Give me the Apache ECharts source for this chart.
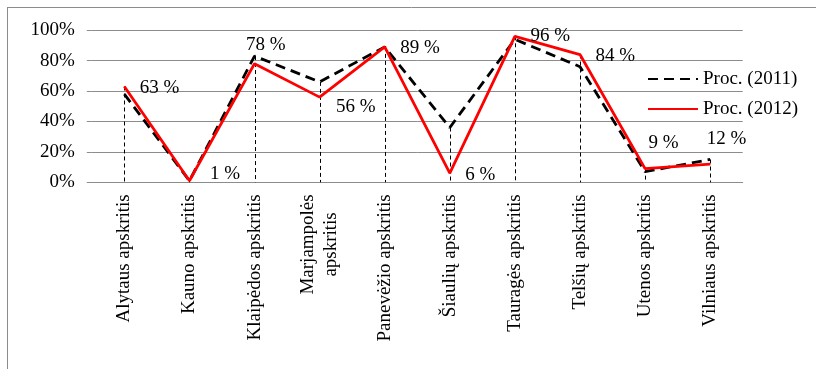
<!DOCTYPE html>
<html lang="lt">
<head>
    <meta charset="utf-8">
    <title>Proc. 2011 / 2012</title>
    <script src="https://cdn.jsdelivr.net/npm/echarts@6/dist/echarts.min.js"></script>
    <style>
        html, body {
            margin: 0;
            padding: 0;
            background: #fff;
        }
    </style>
</head>
<body>
<div id="chart" style="width: 816px; height: 369px;"></div>

<script>
    // duomenys
    var categories = ['Alytaus apskritis', 'Kauno apskritis', 'Klaipėdos apskritis', 'Marjampolės\napskritis',
        'Panevėžio apskritis', 'Šiaulių apskritis', 'Tauragės apskritis', 'Telšių apskritis',
        'Utenos apskritis', 'Vilniaus apskritis'];
    var proc2011 = [58, 1, 83, 66, 89, 36, 94, 76, 7, 15];
    var proc2012 = [63, 1, 78, 56, 89, 6, 96, 84, 9, 12];
    var yTicks = [0, 20, 40, 60, 80, 100];

    // kur deti reiksmiu uzrasus (px nuo tasko)
    var labelOffsets = [[16, 2], [21, -7], [-8, -19], [17, 10], [16, 1], [16, 2], [16, 0], [16, 1], [4, -26], [-3, -25]];

    var font = 'Liberation Serif';
    var gridColor = '#8c8c8c';

    var myChart = echarts.init(document.getElementById('chart'));

    var option = {
        animation: false,
        backgroundColor: '#fff',
        textStyle: { fontFamily: font, color: '#000' },
        graphic: [
            { type: 'line', shape: { x1: 7.5, y1: 7, x2: 7.5, y2: 369 }, style: { stroke: gridColor, lineWidth: 1 } },
            { type: 'line', shape: { x1: 7, y1: 7.5, x2: 816, y2: 7.5 }, style: { stroke: gridColor, lineWidth: 1 } }
        ],
        legend: {
            data: ['Proc. (2011)', 'Proc. (2012)'],
            orient: 'vertical',
            left: 642,
            top: 64,
            itemWidth: 50,
            itemHeight: 14,
            itemGap: 10,
            itemStyle: { opacity: 0 },
            textStyle: { fontFamily: font, fontSize: 19, lineHeight: 20, color: '#000' }
        },
        grid: {
            left: 91.8,
            right: 73.3,
            top: 30.2,
            bottom: 186.7
        },
        xAxis: {
            type: 'category',
            data: categories,
            axisLine: { lineStyle: { color: gridColor, width: 1 } },
            axisTick: { show: false },
            axisLabel: {
                rotate: 90,
                interval: 0,
                margin: 12,
                formatter: function (v) {
                    return v.split('\n').map(function (s) { return '{c|' + s + '}'; }).join('\n');
                },
                rich: {
                    c: { align: 'center', fontFamily: font, fontSize: 19, lineHeight: 23, color: '#000' }
                }
            }
        },
        yAxis: {
            type: 'value',
            min: yTicks[0],
            max: yTicks[yTicks.length - 1],
            interval: 20,
            axisLine: { show: false },
            axisTick: { show: true, length: 5, lineStyle: { color: gridColor } },
            splitLine: { lineStyle: { color: gridColor, width: 1 } },
            axisLabel: {
                margin: 17,
                fontFamily: font,
                fontSize: 19,
                color: '#000',
                formatter: '{value}%'
            }
        },
        series: [
            {
                // drop lines
                name: 'drop',
                type: 'custom',
                z: 1,
                silent: true,
                data: categories.map(function (c, i) { return [i, Math.max(proc2011[i], proc2012[i])]; }),
                renderItem: function (params, api) {
                    var top = api.coord([api.value(0), api.value(1)]);
                    var bottom = api.coord([api.value(0), 0]);
                    var x = Math.round(top[0]) + 0.5;
                    return {
                        type: 'line',
                        shape: { x1: x, y1: top[1], x2: x, y2: bottom[1] },
                        style: { stroke: '#000', lineWidth: 1, lineDash: [4, 3] }
                    };
                }
            },
            {
                name: 'Proc. (2011)',
                type: 'line',
                z: 2,
                symbol: 'none',
                data: proc2011,
                lineStyle: { color: '#000', width: 2.8, type: [10, 6] },
                itemStyle: { color: '#000' }
            },
            {
                name: 'Proc. (2012)',
                type: 'line',
                z: 3,
                symbol: 'circle',
                symbolSize: 1,
                data: proc2012.map(function (v, i) {
                    return {
                        value: v,
                        label: { offset: [labelOffsets[i][0] - 1, labelOffsets[i][1]] }
                    };
                }),
                lineStyle: { color: '#ff0000', width: 2.8 },
                itemStyle: { color: '#ff0000' },
                label: {
                    show: true,
                    position: 'right',
                    distance: 0,
                    fontFamily: font,
                    fontSize: 19,
                    color: '#000',
                    formatter: function (p) { return p.value + ' %'; }
                }
            }
        ]
    };

    myChart.setOption(option);
</script>
</body>
</html>
